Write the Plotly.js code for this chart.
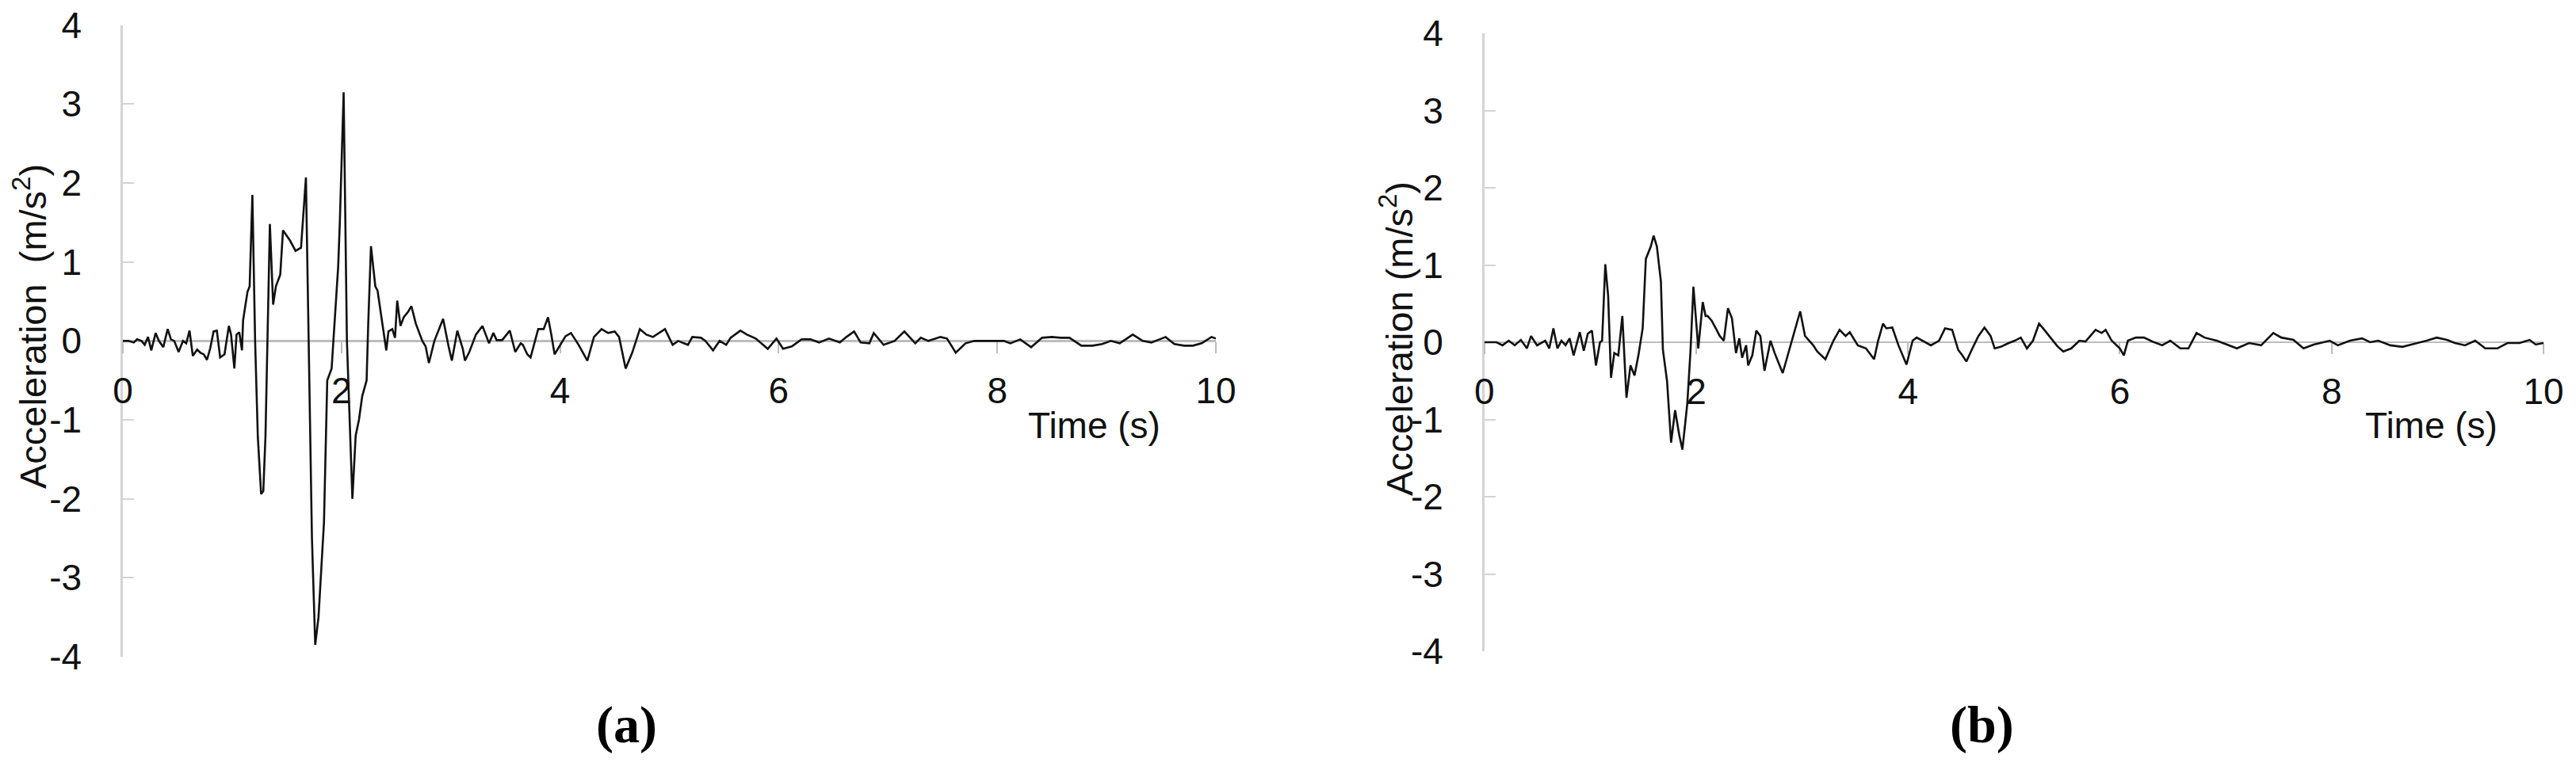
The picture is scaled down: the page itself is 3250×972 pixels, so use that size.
<!DOCTYPE html>
<html>
<head>
<meta charset="utf-8">
<script src="https://cdn.plot.ly/plotly-3.0.1.min.js"></script>
<style>html,body{margin:0;padding:0;background:#fff;}#chart{width:3250px;height:972px;}</style>
</head>
<body>
<div id="chart"></div>
<script>
// ---- Data ----
const timeA = [0.00,0.05,0.10,0.13,0.17,0.20,0.23,0.26,0.30,0.33,0.37,0.41,0.44,0.47,0.51,0.55,0.58,0.61,0.64,0.68,0.71,0.74,0.77,0.80,0.83,0.86,0.89,0.93,0.97,0.99,1.02,1.04,1.065,1.09,1.10,1.14,1.16,1.185,1.21,1.235,1.265,1.285,1.305,1.325,1.345,1.375,1.40,1.44,1.465,1.50,1.53,1.58,1.63,1.675,1.70,1.73,1.76,1.79,1.84,1.87,1.91,1.935,1.97,1.985,2.02,2.05,2.10,2.13,2.16,2.19,2.23,2.245,2.27,2.31,2.33,2.37,2.41,2.43,2.465,2.49,2.51,2.54,2.57,2.61,2.64,2.68,2.70,2.74,2.77,2.80,2.85,2.93,2.98,3.01,3.06,3.11,3.13,3.17,3.20,3.23,3.29,3.33,3.35,3.39,3.42,3.47,3.54,3.59,3.64,3.66,3.70,3.73,3.80,3.85,3.89,3.92,3.95,4.05,4.10,4.17,4.25,4.31,4.38,4.44,4.50,4.54,4.60,4.66,4.73,4.79,4.85,4.96,5.03,5.08,5.17,5.21,5.29,5.33,5.40,5.46,5.52,5.56,5.65,5.71,5.79,5.90,5.98,6.04,6.12,6.21,6.29,6.37,6.46,6.56,6.62,6.69,6.75,6.83,6.87,6.96,7.06,7.15,7.25,7.30,7.37,7.48,7.54,7.62,7.71,7.79,7.87,7.98,8.06,8.12,8.21,8.31,8.41,8.50,8.58,8.66,8.77,8.87,8.96,9.04,9.12,9.24,9.33,9.41,9.54,9.62,9.71,9.79,9.87,9.96,10.00];
const accelA = [0.00,0.00,-0.02,0.02,0.00,-0.05,0.05,-0.12,0.10,0.00,-0.08,0.15,0.02,0.00,-0.14,0.00,-0.03,0.13,-0.19,-0.11,-0.15,-0.17,-0.24,-0.09,0.12,0.13,-0.21,-0.17,0.19,0.08,-0.35,0.08,0.11,-0.12,0.26,0.62,0.69,1.85,0.00,-1.22,-1.94,-1.90,-1.20,0.00,1.48,0.46,0.69,0.84,1.40,1.33,1.27,1.14,1.18,2.07,0.00,-2.50,-3.85,-3.50,-2.30,-0.50,-0.35,0.22,0.94,1.50,3.15,0.00,-2.00,-1.20,-1.00,-0.70,-0.50,0.22,1.20,0.69,0.64,0.26,-0.12,0.12,0.15,0.04,0.51,0.19,0.30,0.37,0.44,0.22,0.15,0.00,-0.07,-0.28,0.00,0.28,-0.07,-0.25,0.13,-0.10,-0.25,-0.14,-0.03,0.08,0.19,0.04,-0.03,0.10,0.01,0.01,0.13,-0.14,-0.03,-0.05,-0.17,-0.21,0.15,0.15,0.30,0.08,-0.17,0.06,0.10,-0.05,-0.25,0.05,0.15,0.10,0.12,0.05,-0.35,-0.15,0.15,0.08,0.05,0.15,-0.05,0.00,-0.05,0.05,0.04,0.00,-0.12,0.00,-0.05,0.04,0.13,0.08,0.03,-0.10,0.03,-0.10,-0.07,0.02,0.02,-0.02,0.03,-0.02,0.05,0.12,-0.02,-0.03,0.10,-0.05,0.00,0.12,-0.03,0.04,0.00,0.05,0.03,-0.15,-0.03,0.00,0.00,0.00,0.00,-0.03,0.02,-0.08,0.04,0.05,0.04,0.04,-0.06,-0.06,-0.04,0.00,-0.03,0.08,0.00,-0.02,0.05,-0.04,-0.06,-0.06,-0.03,0.05,0.03];

const timeB = [0.00,0.115,0.172,0.23,0.287,0.345,0.402,0.441,0.498,0.575,0.613,0.652,0.69,0.728,0.767,0.805,0.843,0.901,0.939,0.977,1.016,1.054,1.092,1.112,1.142,1.169,1.196,1.227,1.265,1.303,1.342,1.380,1.418,1.456,1.495,1.525,1.572,1.598,1.629,1.667,1.686,1.725,1.763,1.801,1.84,1.870,1.916,1.947,1.974,1.993,2.02,2.062,2.089,2.108,2.146,2.185,2.223,2.261,2.30,2.338,2.376,2.407,2.434,2.472,2.491,2.53,2.568,2.606,2.645,2.702,2.741,2.817,2.913,2.982,3.028,3.105,3.143,3.22,3.296,3.354,3.411,3.45,3.526,3.603,3.68,3.718,3.764,3.795,3.852,3.91,3.986,4.044,4.082,4.14,4.216,4.293,4.35,4.417,4.474,4.513,4.551,4.608,4.665,4.722,4.78,4.818,4.875,4.951,5.008,5.065,5.123,5.18,5.237,5.275,5.332,5.409,5.466,5.542,5.618,5.676,5.771,5.828,5.866,5.923,6.0,6.038,6.076,6.152,6.228,6.305,6.4,6.476,6.571,6.648,6.724,6.8,6.915,7.029,7.105,7.22,7.334,7.449,7.525,7.639,7.734,7.83,7.944,7.982,8.058,8.173,8.287,8.363,8.44,8.554,8.668,8.821,8.897,8.992,9.088,9.164,9.259,9.355,9.45,9.564,9.66,9.774,9.869,9.926,10.0];
const accelB = [0.00,0.00,-0.04,0.02,-0.04,0.03,-0.08,0.08,-0.04,0.02,-0.08,0.18,-0.08,0.02,-0.04,0.05,-0.17,0.13,-0.11,0.11,0.15,-0.30,0.00,0.02,1.01,0.60,-0.46,-0.14,-0.17,0.34,-0.72,-0.30,-0.43,-0.16,0.18,1.08,1.24,1.38,1.24,0.79,-0.10,-0.50,-1.30,-0.88,-1.20,-1.39,-0.80,-0.10,0.72,0.40,-0.08,0.52,0.34,0.34,0.28,0.18,0.08,0.02,0.44,0.31,-0.14,0.05,-0.20,-0.04,-0.30,-0.17,0.15,0.08,-0.37,0.02,-0.14,-0.40,0.08,0.40,0.08,-0.04,-0.12,-0.22,0.02,0.16,0.08,0.13,-0.04,-0.08,-0.22,0.02,0.24,0.18,0.19,-0.04,-0.29,0.02,0.06,0.02,-0.04,0.02,0.18,0.16,-0.10,-0.17,-0.25,-0.08,0.08,0.19,0.08,-0.08,-0.06,-0.01,0.02,0.06,-0.08,0.02,0.24,0.18,0.08,-0.05,-0.12,-0.08,0.02,0.01,0.16,0.12,0.16,0.02,-0.08,-0.17,0.02,0.06,0.06,0.01,-0.04,0.02,-0.08,-0.08,0.12,0.06,0.02,-0.04,-0.08,-0.01,-0.04,0.12,0.06,0.03,-0.08,-0.03,0.01,0.02,-0.04,0.02,0.05,0.00,0.02,-0.04,-0.06,-0.01,0.02,0.06,0.03,-0.01,-0.04,0.02,-0.08,-0.08,-0.01,-0.01,0.03,-0.03,-0.01];

const xTicks = [0, 2, 4, 6, 8, 10];
const yTicks = [-4, -3, -2, -1, 0, 1, 2, 3, 4];
const yTitleA = "Acceleration  (m/s<sup>2</sup>)";
const yTitleB = "Acceleration (m/s<sup>2</sup>)";
const xTitle = "Time (s)";
const panelLabels = ["(a)", "(b)"];

// ---- Styling ----
const W = 3250, H = 972;
const tickFont = {family: "Liberation Sans, Arial, sans-serif", size: 46, color: "#111"};
const axisGray = "#c8c8c8";

function xAxis(domain, pos) {
  return {
    domain: domain, range: [0, 10], anchor: "free", position: pos,
    tickvals: xTicks, ticktext: xTicks.map(String),
    showline: true, linecolor: "#bdbdbd", linewidth: 2.2,
    ticks: "outside", ticklen: 14, tickwidth: 2, tickcolor: "#bdbdbd",
    showgrid: false, zeroline: false, tickfont: tickFont,
    layer: "below traces", ticklabelstandoff: 8
  };
}
function yAxis(domain, anchor) {
  return {
    domain: domain, range: [-4, 4], anchor: anchor,
    tickvals: yTicks, ticktext: yTicks.map(String),
    showline: true, linecolor: "#d4d4d4", linewidth: 2.6,
    ticks: "inside", ticklen: 14, tickwidth: 2, tickcolor: "#d4d4d4",
    showgrid: false, zeroline: false, tickfont: tickFont,
    layer: "below traces", ticklabelstandoff: 40
  };
}

const domXA = [155 / W, 1534 / W];
const domXB = [1872.7 / W, 3209 / W];
const domYA = [1 - 829 / H, 1 - 31.7 / H];
const domYB = [1 - 822 / H, 1 - 42 / H];

const traces = [
  {x: timeA, y: accelA, xaxis: "x", yaxis: "y", type: "scatter", mode: "lines",
   line: {color: "#111", width: 2.6}, hoverinfo: "skip"},
  {x: timeB, y: accelB, xaxis: "x2", yaxis: "y2", type: "scatter", mode: "lines",
   line: {color: "#111", width: 2.6}, hoverinfo: "skip"}
];

const labelFont = {family: "Liberation Sans, Arial, sans-serif", size: 46, color: "#111"};
const layout = {
  width: W, height: H,
  margin: {l: 0, r: 0, t: 0, b: 0, pad: 0},
  paper_bgcolor: "#fff", plot_bgcolor: "rgba(0,0,0,0)",
  showlegend: false,
  xaxis: xAxis(domXA, (domYA[0] + domYA[1]) / 2),
  yaxis: yAxis(domYA, "x"),
  xaxis2: xAxis(domXB, (domYB[0] + domYB[1]) / 2),
  yaxis2: yAxis(domYB, "x2"),
  annotations: [
    {text: xTitle, xref: "paper", yref: "paper", x: 1380 / W, y: 1 - 537 / H,
     xanchor: "center", yanchor: "middle", showarrow: false, font: labelFont},
    {text: xTitle, xref: "paper", yref: "paper", x: 3067 / W, y: 1 - 537 / H,
     xanchor: "center", yanchor: "middle", showarrow: false, font: labelFont},
    {text: yTitleA, xref: "paper", yref: "paper", x: 38 / W, y: 1 - 412 / H,
     xanchor: "center", yanchor: "middle", textangle: -90, showarrow: false,
     font: {family: "Liberation Sans, Arial, sans-serif", size: 47, color: "#111"}},
    {text: yTitleB, xref: "paper", yref: "paper", x: 1762 / W, y: 1 - 428 / H,
     xanchor: "center", yanchor: "middle", textangle: -90, showarrow: false,
     font: {family: "Liberation Sans, Arial, sans-serif", size: 47, color: "#111"}},
    {text: "<b>" + panelLabels[0] + "</b>", xref: "paper", yref: "paper", x: 790 / W, y: 1 - 915 / H,
     xanchor: "center", yanchor: "middle", showarrow: false,
     font: {family: "Liberation Serif, Times New Roman, serif", size: 66, color: "#000"}},
    {text: "<b>" + panelLabels[1] + "</b>", xref: "paper", yref: "paper", x: 2500 / W, y: 1 - 915 / H,
     xanchor: "center", yanchor: "middle", showarrow: false,
     font: {family: "Liberation Serif, Times New Roman, serif", size: 66, color: "#000"}}
  ]
};

Plotly.newPlot("chart", traces, layout, {staticPlot: true, displayModeBar: false});
</script>
</body>
</html>
